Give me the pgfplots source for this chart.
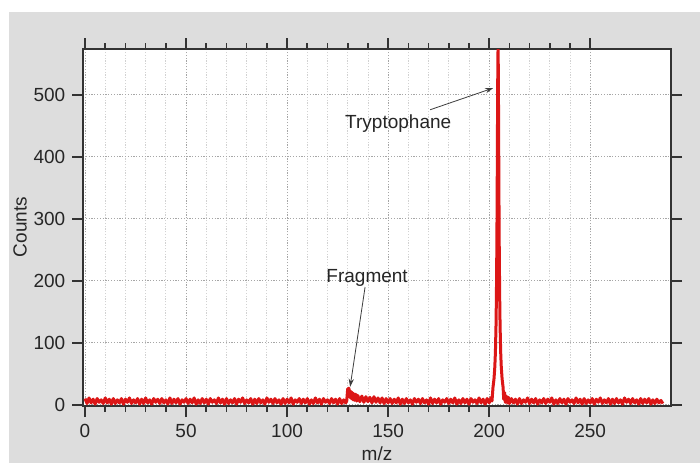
\documentclass[border=0pt]{standalone}
\usepackage{pgfplots}
\pgfplotsset{compat=1.18}
\usepackage{fontspec}
\setmainfont{Liberation Sans}
\usetikzlibrary{arrows.meta}
\definecolor{bggray}{RGB}{221,221,221}
\definecolor{specred}{RGB}{220,22,22}
\definecolor{arrowgray}{RGB}{60,60,60}
\begin{document}
\fontsize{9.5}{11}\selectfont
\begin{tikzpicture}
  \path[use as bounding box] (0,0) rectangle (350pt,231.5pt);
  \fill[bggray] (4.5pt,0) rectangle (350pt,225.5pt);
  \begin{axis}[
    at={(41.5pt,28.5pt)}, anchor=south west,
    scale only axis, width=294pt, height=178.5pt,
    xmin=-1, xmax=290, ymin=-2, ymax=574,
    axis background/.style={fill=white},
    axis line style={black!80, line width=0.8pt},
    xtick={0,50,...,250}, minor x tick num=4,
    ytick={0,100,...,500},
    tick align=outside, tick pos=both,
    xticklabel pos=bottom, yticklabel pos=left,
    major tick length=5.5pt, minor tick length=3pt,
    tick style={black!80, line width=0.8pt},
    grid=both,
    major grid style={gray!70, line width=0.4pt, dash pattern=on 0.6pt off 0.8pt},
    minor grid style={gray!35, line width=0.4pt, dash pattern=on 0.6pt off 0.8pt},
    ticklabel style={font=\fontsize{9.5}{11}\selectfont, text=black!85},
    /pgf/number format/assume math mode=true,
    clip=true,
  ]
  \addplot[specred, line width=1.5pt, line join=round] coordinates {
    (0,10)(1,2)(2,11)(3,3)(4,9)(5,1)(6,10)(7,4)(8,8)(9,2)
    (10,11)(11,3)(12,9)(13,1)(14,10)(15,2)(16,8)(17,3)(18,10)(19,1)
    (20,9)(21,4)(22,11)(23,2)(24,8)(25,3)(26,10)(27,1)(28,9)(29,2)
    (30,11)(31,3)(32,8)(33,1)(34,10)(35,4)(36,9)(37,2)(38,10)(39,3)
    (40,8)(41,1)(42,11)(43,2)(44,9)(45,3)(46,10)(47,1)(48,8)(49,4)
    (50,10)(51,2)(52,9)(53,3)(54,11)(55,1)(56,8)(57,2)(58,10)(59,3)
    (60,9)(61,1)(62,10)(63,4)(64,8)(65,2)(66,11)(67,3)(68,9)(69,1)
    (70,10)(71,2)(72,8)(73,3)(74,10)(75,1)(76,9)(77,4)(78,11)(79,2)
    (80,8)(81,3)(82,10)(83,1)(84,9)(85,2)(86,10)(87,3)(88,8)(89,1)
    (90,11)(91,4)(92,9)(93,2)(94,10)(95,3)(96,8)(97,1)(98,10)(99,2)
    (100,9)(101,3)(102,11)(103,1)(104,8)(105,4)(106,10)(107,2)(108,9)(109,3)
    (110,10)(111,1)(112,8)(113,2)(114,11)(115,3)(116,9)(117,1)(118,10)(119,4)
    (120,8)(121,2)(122,10)(123,3)(124,9)(125,1)(126,10)(127,2)(128,8)(129,3)
    (129.5,6)(130,26)(130.3,14)(130.6,27)(131,12)(131.4,22)(131.8,10)(132.2,20)
    (132.6,8)(133,18)(133.5,7)(134,17)(134.5,6)(135,15)(136,5)(137,14)(138,4)
    (139,13)(140,5)(141,12)(142,3)(143,13)(144,4)(145,11)(146,3)(147,11)(148,2)(149,10)
    (150,3)(151,10)(152,2)(153,9)(154,3)(155,11)(156,1)(157,9)(158,2)(159,10)
    (160,3)(161,8)(162,1)(163,10)(164,4)(165,9)(166,2)(167,10)(168,3)(169,8)
    (170,1)(171,11)(172,2)(173,9)(174,3)(175,10)(176,1)(177,8)(178,4)(179,10)
    (180,2)(181,9)(182,3)(183,11)(184,1)(185,8)(186,2)(187,10)(188,3)(189,9)
    (190,1)(191,10)(192,4)(193,8)(194,2)(195,11)(196,3)(197,9)(198,1)(199,10)
    (200,3)(201,12)(201.4,6)(201.9,28)(202.4,42)(202.8,61)(203.1,85)(203.4,129)
    (203.6,177)(203.8,253)(203.9,304)(204.0,365)(204.1,433)(204.2,500)(204.3,550)
    (204.4,576)(204.5,550)(204.6,500)(204.7,433)(204.8,365)(204.9,304)(205.0,253)
    (205.2,177)(205.4,129)(205.7,85)(206.0,61)(206.4,42)(206.9,28)(207.2,9)
    (207.6,20)(208,4)(208.5,14)(209,3)(209.5,12)(210,2)
    (211,10)(212,3)(213,9)(214,1)(215,10)(216,2)(217,8)(218,4)(219,11)
    (220,2)(221,9)(222,3)(223,10)(224,1)(225,8)(226,3)(227,10)(228,2)(229,9)
    (230,4)(231,11)(232,1)(233,8)(234,2)(235,10)(236,3)(237,9)(238,1)(239,10)
    (240,4)(241,8)(242,2)(243,11)(244,3)(245,9)(246,1)(247,10)(248,2)(249,8)
    (250,3)(251,10)(252,1)(253,9)(254,4)(255,11)(256,2)(257,8)(258,3)(259,10)
    (260,1)(261,9)(262,2)(263,10)(264,3)(265,8)(266,1)(267,11)(268,4)(269,9)
    (270,2)(271,10)(272,3)(273,8)(274,1)(275,10)(276,2)(277,9)(278,3)(279,10)
    (280,1)(281,8)(282,2)(283,9)(284,3)(285,7)(286,2)
  };
  \node[text=black!85] at (axis cs:155,453) {Tryptophane};
  \draw[arrowgray, line width=0.4pt, -{Stealth[length=4pt,width=2.6pt]}]
    (axis cs:170.8,476) -- (axis cs:202,511);
  \node[text=black!85] at (axis cs:139.6,205) {Fragment};
  \draw[arrowgray, line width=0.4pt, -{Stealth[length=4pt,width=2.6pt]}]
    (axis cs:138.6,190) -- (axis cs:131.2,29);
  \end{axis}
  \node[rotate=90, text=black!85] at (10pt,118pt) {Counts};
  \node[anchor=base, text=black!85] at (188.5pt,1.5pt) {m/z};
\end{tikzpicture}
\end{document}
